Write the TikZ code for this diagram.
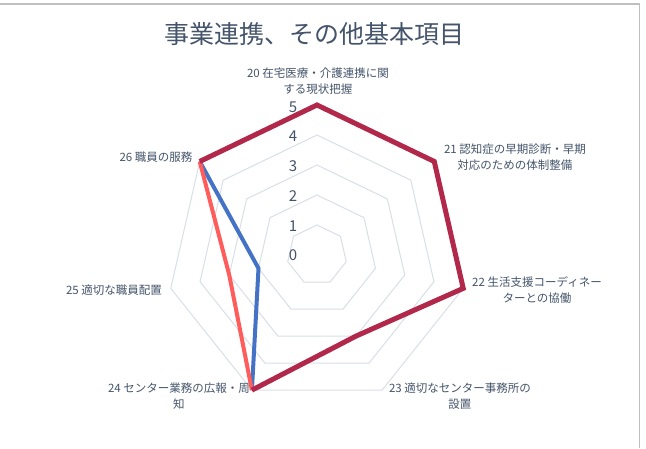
\documentclass[tikz,border=0pt]{standalone}
\usepackage{fontspec}
\setmainfont{Noto Sans CJK JP}
\definecolor{txtc}{RGB}{68,84,106}
\definecolor{gridc}{RGB}{217,222,230}
\definecolor{framec}{RGB}{191,191,191}
\definecolor{wineline}{RGB}{178,40,75}
\definecolor{salmonline}{RGB}{255,92,92}
\definecolor{blueline}{RGB}{68,114,196}
\tikzset{
  ring/.style={draw=gridc, line width=1pt},
  frame/.style={draw=framec, line width=1.3pt},
  ttl/.style={text=txtc, font=\fontsize{25}{28}\selectfont, inner sep=0pt},
  num/.style={text=txtc, font=\fontsize{15}{17}\selectfont, inner sep=0pt},
  axislbl/.style={text=txtc, font=\fontsize{11.5}{16.5}\selectfont, align=center, inner sep=0pt},
  series/.style={line width=#1, line join=miter},
}
\begin{document}
\begin{tikzpicture}[x=1pt,y=1pt]
            \useasboundingbox (-317,-193) rectangle (329,255);
            \draw[frame] (-317,251) -- (322.5,251) -- (322.5,-193);

            % rings 1 to 5
            \draw[ring] (90:30) -- (38.571:30) -- (-12.857:30) -- (-64.286:30) -- (-115.714:30) -- (-167.143:30) -- (141.429:30) -- cycle;
            \draw[ring] (90:60) -- (38.571:60) -- (-12.857:60) -- (-64.286:60) -- (-115.714:60) -- (-167.143:60) -- (141.429:60) -- cycle;
            \draw[ring] (90:90) -- (38.571:90) -- (-12.857:90) -- (-64.286:90) -- (-115.714:90) -- (-167.143:90) -- (141.429:90) -- cycle;
            \draw[ring] (90:120) -- (38.571:120) -- (-12.857:120) -- (-64.286:120) -- (-115.714:120) -- (-167.143:120) -- (141.429:120) -- cycle;
            \draw[ring] (90:150) -- (38.571:150) -- (-12.857:150) -- (-64.286:150) -- (-115.714:150) -- (-167.143:150) -- (141.429:150) -- cycle;

            \node[num] (N0) at (-24,0) {0};
            \node[num] (N1) at (-24,29) {1};
            \node[num] (N2) at (-24,59) {2};
            \node[num] (N3) at (-24,89) {3};
            \node[num] (N4) at (-24,119) {4};
            \node[num] (N5) at (-24,148) {5};

            \coordinate (W20) at (90:150);
            \coordinate (W21) at (38.571:150);
            \coordinate (W22) at (-12.857:150);
            \coordinate (W23) at (-64.286:90);
            \coordinate (W24) at (-115.714:150);
            \coordinate (W26) at (141.429:150);
            \coordinate (S25) at (-167.143:90);
            \coordinate (B25) at (-167.143:60);

            \draw[series=4pt, blueline] (W26) -- (B25) -- (W24);
            \draw[series=4pt, salmonline] (W26) -- (S25) -- (W24);
            \draw[series=5pt, wineline] (W24) -- (W23) -- (W22) -- (W21) -- (W20) -- (W26);

            \node[ttl] (T) at (-2,221) {事業連携、その他基本項目};
            \node[axislbl] (L20) at (1,174) {20 在宅医療・介護連携に関\\する現状把握};
            \node[axislbl] (L21) at (198,98) {21 認知症の早期診断・早期\\対応のための体制整備};
            \node[axislbl] (L22) at (220,-35) {22 生活支援コーディネー\\ターとの協働};
            \node[axislbl] (L23) at (143,-141) {23 適切なセンター事務所の\\設置};
            \node[axislbl] (L24) at (-138,-141) {24 センター業務の広報・周\\知};
            \node[axislbl] (L25) at (-203,-35) {25 適切な職員配置};
            \node[axislbl] (L26) at (-161,98) {26 職員の服務};
\end{tikzpicture}
\end{document}
